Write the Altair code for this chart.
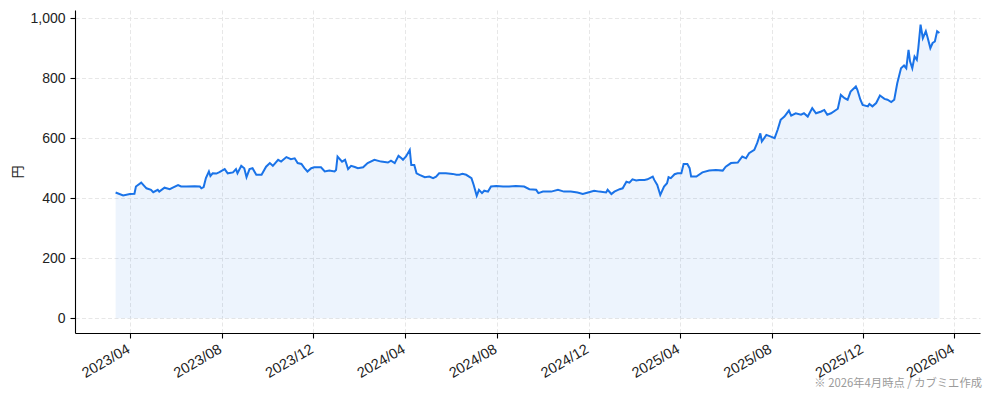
import altair as alt
import pandas as pd

START = "2023-03-13"
# Trading-day offsets (days after START) and closing prices
DAY = [
    0, 10, 19, 25, 27, 34, 41, 47, 50, 56, 58, 65, 72, 76, 83, 87, 94, 105, 112, 114,
    117, 120, 124, 126, 129, 134, 138, 145, 149, 156, 160, 162, 167, 171, 174, 178, 182, 187, 194, 200,
    205, 209, 216, 220, 227, 233, 238, 242, 247, 251, 255, 260, 264, 273, 278, 284, 291, 293, 295, 301,
    305, 309, 313, 318, 322, 329, 335, 344, 353, 362, 366, 371, 376, 380, 382, 386, 391, 393, 397, 400,
    404, 411, 417, 422, 426, 430, 439, 448, 453, 457, 461, 466, 473, 476, 480, 483, 487, 490, 495, 499,
    506, 515, 523, 532, 543, 550, 559, 562, 568, 574, 579, 588, 596, 605, 614, 621, 628, 636, 643, 652,
    654, 659, 663, 670, 674, 679, 683, 687, 692, 696, 703, 707, 714, 716, 720, 724, 729, 733, 735, 738,
    743, 747, 752, 755, 760, 763, 765, 772, 780, 789, 798, 807, 811, 818, 827, 833, 838, 842, 849, 853,
    857, 859, 865, 871, 876, 880, 884, 889, 895, 898, 904, 911, 915, 920, 926, 931, 938, 942, 946, 951,
    960, 964, 969, 973, 977, 984, 986, 990, 993, 1000, 1002, 1006, 1011, 1016, 1022, 1026, 1031, 1035, 1039, 1044,
    1048, 1051, 1054, 1056, 1059, 1062, 1065, 1067, 1070, 1073, 1077, 1079, 1083, 1086, 1089, 1092, 1095,
]
PRICE = [
    419, 409, 414, 415, 439, 452, 433, 428, 420, 428, 422, 435, 430, 435, 444, 439, 439, 440, 439, 433,
    437, 467, 489, 474, 483, 482, 487, 497, 483, 486, 497, 483, 508, 500, 470, 497, 500, 478, 478, 505,
    517, 508, 528, 522, 537, 530, 533, 517, 514, 500, 489, 500, 503, 503, 489, 492, 489, 494, 539, 522,
    528, 497, 508, 504, 500, 503, 517, 528, 522, 519, 525, 517, 541, 533, 528, 539, 561, 511, 511, 483,
    478, 470, 472, 467, 472, 483, 483, 481, 478, 478, 481, 478, 467, 444, 408, 428, 417, 425, 422, 439,
    441, 439, 439, 441, 439, 430, 428, 417, 422, 422, 422, 428, 422, 422, 419, 414, 419, 425, 422, 419,
    428, 414, 422, 430, 433, 455, 452, 463, 459, 461, 461, 463, 472, 461, 444, 411, 439, 450, 470, 467,
    480, 483, 483, 514, 514, 500, 472, 472, 486, 492, 494, 492, 505, 517, 519, 539, 533, 550, 561, 585,
    616, 589, 611, 605, 600, 628, 661, 672, 692, 675, 683, 678, 683, 672, 700, 683, 689, 694, 678, 683,
    698, 744, 733, 728, 755, 772, 761, 728, 711, 706, 714, 706, 717, 742, 731, 728, 720, 728, 783, 833,
    842, 833, 894, 856, 833, 872, 861, 900, 978, 933, 956, 939, 900, 917, 922, 956, 950,
]
X_TICKS = [
    "2023-04-01", "2023-08-01", "2023-12-01", "2024-04-01", "2024-08-01",
    "2024-12-01", "2025-04-01", "2025-08-01", "2025-12-01", "2026-04-01",
]
X_DOMAIN = ["2023-01-18", "2026-05-05"]
Y_TICKS = [0, 200, 400, 600, 800, 1000]
Y_DOMAIN = [-48.9, 1026.9]
Y_TITLE = "円"
NOTE = "※ 2026年4月時点 / カブミエ作成"

LINE_COLOR = "#1a73e8"

dates = (pd.Timestamp(START) + pd.to_timedelta(DAY, unit="D")).strftime("%Y-%m-%d")
df = pd.DataFrame({"date": list(dates), "price": PRICE})


def dt(s):
    y, m, d = map(int, s.split("-"))
    return alt.DateTime(year=y, month=m, date=d, utc=True)


x_enc = alt.X(
    "date:T",
    scale=alt.Scale(type="utc", domain=[dt(s) for s in X_DOMAIN], nice=False),
    axis=alt.Axis(
        values=[dt(s) for s in X_TICKS],
        format="%Y/%m",
        labelAngle=-30,
        labelAlign="right",
        labelBaseline="top",
        labelPadding=4,
        labelOffset=-5,
        labelFontSize=14.5,
        title=None,
    ),
)
y_enc = alt.Y(
    "price:Q",
    scale=alt.Scale(domain=Y_DOMAIN, nice=False, zero=False),
    axis=alt.Axis(values=Y_TICKS, format=",.0f", title=Y_TITLE, titlePadding=5),
)

base = alt.Chart(df)
area = base.mark_area(color=LINE_COLOR, opacity=0.08).encode(x=x_enc, y=y_enc, y2=alt.datum(0))
line = base.mark_line(color=LINE_COLOR, strokeWidth=2).encode(x=x_enc, y=y_enc)
note = alt.Chart(pd.DataFrame({"note": [NOTE]})).mark_text(
    align="right", baseline="alphabetic", font="Noto Sans CJK JP", fontSize=11.3, color="#9a9a9a"
).encode(text="note:N", x=alt.value(907), y=alt.value(377))

chart = (
    alt.layer(area, line, note)
    .properties(
        width=905,
        height=323,
        autosize=alt.AutoSizeParams(type="none"),
        padding={"left": 67, "top": 2, "right": 6, "bottom": 60},
        background="white",
    )
    .configure_view(stroke=None)
    .configure_axis(
        labelFont="Liberation Sans",
        labelFontSize=14,
        labelColor="#222222",
        titleFont="Noto Sans CJK JP",
        titleFontSize=13,
        titleFontWeight="normal",
        titleColor="#222222",
        domainColor="#000000",
        domainWidth=1.1,
        tickColor="#000000",
        tickWidth=1.1,
        tickSize=5,
        labelPadding=5,
        gridColor="#e4e4e4",
        gridDash=[4, 2.5],
        gridWidth=0.9,
    )
)

chart.save("out.html", embed_options={"renderer": "svg", "actions": False})
